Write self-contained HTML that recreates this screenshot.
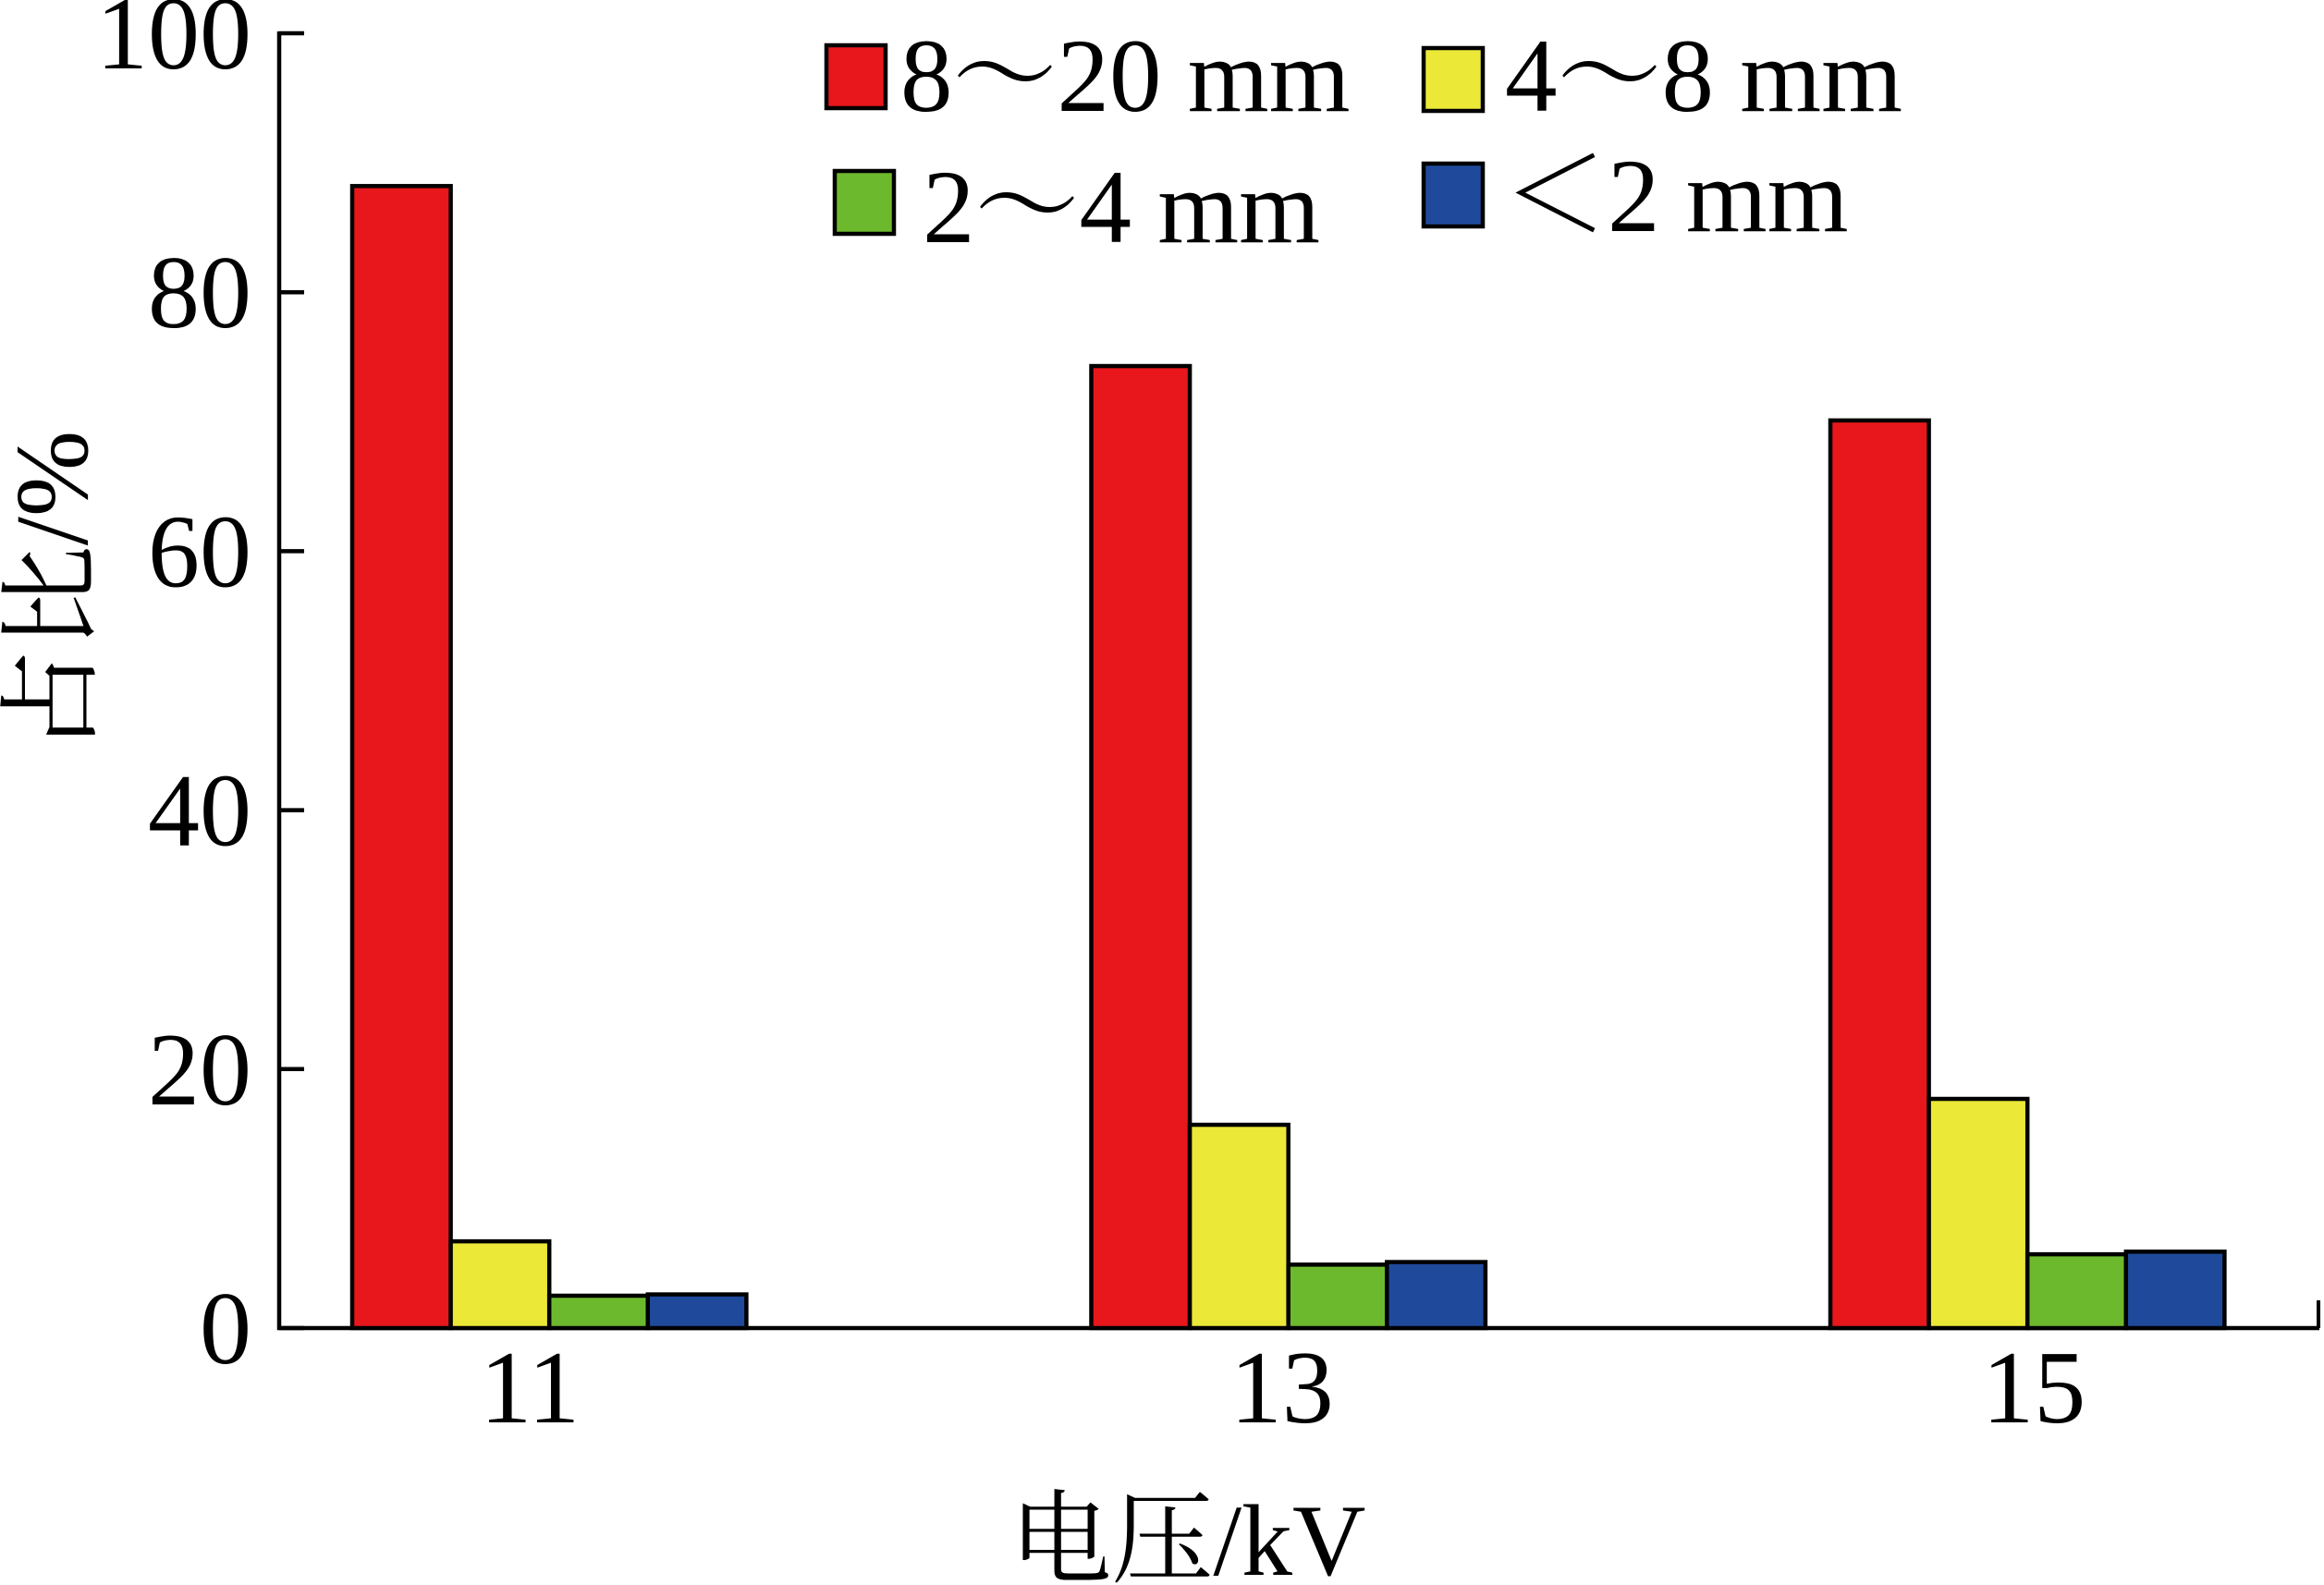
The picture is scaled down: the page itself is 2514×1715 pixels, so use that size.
<!DOCTYPE html>
<html><head><meta charset="utf-8"><style>
html,body{margin:0;padding:0;background:#fff;}
svg{display:block;}
text{font-family:"Liberation Serif","Times New Roman","Noto Serif CJK SC",serif;fill:#000;}
</style></head><body>
<svg id="chart" width="2514" height="1715" viewBox="0 0 2514 1715" xmlns="http://www.w3.org/2000/svg">
<g id="axes"></g>
<g id="bars"></g>
<g id="legend"></g>
</svg>
<script>
const categories = ["11", "13", "15"];
const seriesNames = ["8～20 mm", "4～8 mm", "2～4 mm", "＜2 mm"];
const seriesColors = ["#e7171b", "#ebe838", "#6db92d", "#1f4a9c"];
const s1 = [88.2, 74.3, 70.1];
const s2 = [6.7, 15.7, 17.7];
const s3 = [2.5, 4.9, 5.7];
const s4 = [2.6, 5.1, 5.9];
const yTicks = [0, 20, 40, 60, 80, 100];

const NS = "http://www.w3.org/2000/svg";
const X0 = 302, XEND = 2509, Y0 = 1437, Y100 = 36;
const yScale = v => Y0 - (v / 100) * (Y0 - Y100);
const groupStart = i => 381 + i * 799.5;
const BW = 106.6;
function mk(tag, attrs, parent, txt) {
  const e = document.createElementNS(NS, tag);
  for (const k in attrs) e.setAttribute(k, attrs[k]);
  if (txt !== undefined) e.textContent = txt;
  parent.appendChild(e);
  return e;
}
const axes = document.getElementById("axes");
const bars = document.getElementById("bars");
const legend = document.getElementById("legend");

const series = [s1, s2, s3, s4];
series.forEach((arr, si) => {
  arr.forEach((v, ci) => {
    const x = groupStart(ci) + si * BW;
    const r = mk("rect", {x: x, y: yScale(v), width: BW, height: Y0 - yScale(v), fill: seriesColors[si], stroke: "#000", "stroke-width": 4.5}, bars);
    
    
  });
});

const yAxis = mk("line", {x1: X0, y1: Y100 - 2, x2: X0, y2: Y0 + 2, stroke: "#000", "stroke-width": 4.5}, axes);


const xAxis = mk("line", {x1: X0 - 2, y1: Y0, x2: XEND, y2: Y0, stroke: "#000", "stroke-width": 4.5}, axes);


const endTick = mk("line", {x1: XEND - 1, y1: Y0, x2: XEND - 1, y2: Y0 - 30, stroke: "#000", "stroke-width": 4}, axes);



yTicks.forEach(t => {
  const y = yScale(t);
  const tk = mk("line", {x1: X0, y1: y, x2: X0 + 27, y2: y, stroke: "#000", "stroke-width": 4.5}, axes);
  
  
  const lb = mk("text", {x: 272, y: y + 38, "text-anchor": "end", "font-size": 112}, axes, String(t));
  
  
});

categories.forEach((c, ci) => {
  const cx = groupStart(ci) + 2 * BW - 21 + ci * 14;
  const lb = mk("text", {x: cx, y: 1539, "text-anchor": "middle", "font-size": 112}, axes, c);
  
  
});

const xt = mk("text", {x: 1285, y: 1704, "text-anchor": "middle", "font-size": 110}, axes, "电压/kV");


const yt = mk("text", {x: 0, y: 0, "text-anchor": "middle", "font-size": 112, transform: "translate(94,640) rotate(-90)"}, axes, "占比/%");



const legPos = [
  {bx: 894, by: 49, tx: 974, ty: 120},
  {bx: 1540, by: 52, tx: 1628, ty: 120},
  {bx: 903, by: 185, tx: 998, ty: 262},
  {bx: 1540, by: 177, tx: 1626, ty: 250}
];
seriesNames.forEach((n, i) => {
  const p = legPos[i];
  const g = mk("g", {}, legend);
  
  
  const sw = mk("rect", {x: p.bx, y: p.by, width: 64, height: 68, fill: seriesColors[i], stroke: "#000", "stroke-width": 4.5}, g);
  
  
  const t = mk("text", {x: p.tx, y: p.ty, "font-size": 113}, g, n);
  
  
});
</script>
</body></html>
